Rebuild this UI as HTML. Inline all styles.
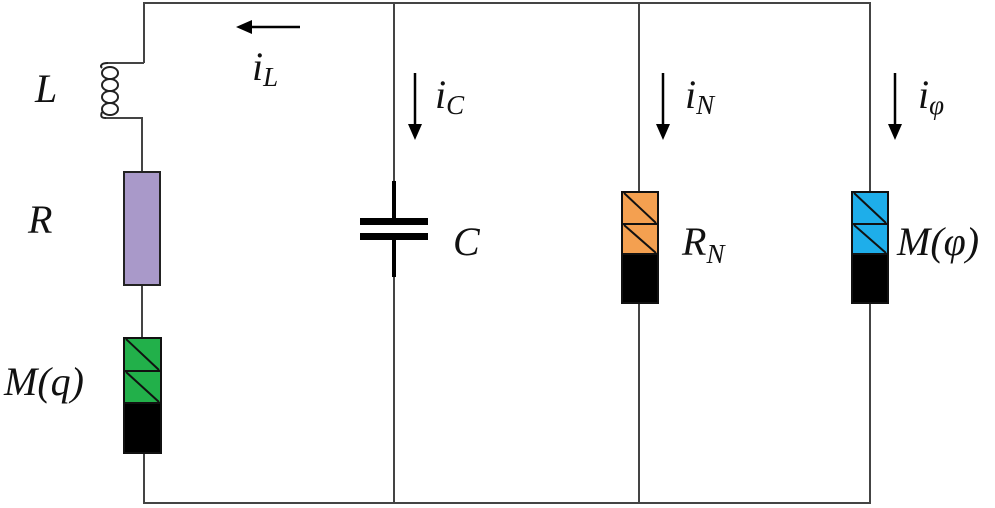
<!DOCTYPE html>
<html><head><meta charset="utf-8"><style>
html,body{margin:0;padding:0;background:#fff}
svg{display:block}
text{font-family:"Liberation Serif",serif;font-style:italic;fill:#111}
</style></head><body>
<svg width="995" height="508" viewBox="0 0 995 508" xmlns="http://www.w3.org/2000/svg">
<defs><marker id="ah" markerWidth="16" markerHeight="14" refX="4" refY="7" orient="auto" markerUnits="userSpaceOnUse"><path d="M0,0 L16,7 L0,14 z" fill="#000"/></marker></defs>
<g stroke="#444" stroke-width="2" fill="none">
<path d="M144,63 V3 H870 V503 H144 V453"/>
<path d="M144,63 H108"/>
<path d="M106,118 H142 V172"/>
<path d="M142,285 V338"/>
<path d="M394,3 V181"/><path d="M394,277 V503"/>
<path d="M639,3 V192"/><path d="M639,303 V503"/>
<path d="M870,3 V192"/><path d="M870,303 V503"/>
</g>
<!-- inductor coils -->
<g stroke="#222" stroke-width="2" fill="none">
<path d="M108,63 C101,63 100,66 102,68"/>
<ellipse cx="110" cy="73" rx="8" ry="6"/>
<ellipse cx="110" cy="85" rx="8" ry="6"/>
<ellipse cx="110" cy="97" rx="8" ry="6"/>
<ellipse cx="110" cy="109" rx="8" ry="6"/>
<path d="M102,112 C100,117 102,118 106,118"/>
</g>
<!-- R -->
<rect x="124" y="172" width="36" height="113" fill="#a999c9" stroke="#222" stroke-width="2"/>
<!-- memristors -->
<g stroke="#111" stroke-width="2">
<rect x="124" y="338" width="37" height="115" fill="#000"/>
<rect x="124" y="338" width="37" height="65" fill="#22b04a"/>
<line x1="124" y1="371" x2="161" y2="371"/>
<line x1="126" y1="339" x2="159" y2="370"/><line x1="126" y1="372" x2="159" y2="402"/>
<rect x="622" y="192" width="36" height="111" fill="#000"/>
<rect x="622" y="192" width="36" height="62" fill="#f4a050"/>
<line x1="622" y1="224" x2="658" y2="224"/>
<line x1="624" y1="193" x2="656" y2="223"/><line x1="624" y1="225" x2="656" y2="253"/>
<rect x="852" y="192" width="36" height="111" fill="#000"/>
<rect x="852" y="192" width="36" height="62" fill="#1eaeea"/>
<line x1="852" y1="224" x2="888" y2="224"/>
<line x1="854" y1="193" x2="886" y2="223"/><line x1="854" y1="225" x2="886" y2="253"/>
</g>
<!-- capacitor -->
<g fill="#000">
<rect x="392" y="181" width="4" height="40"/>
<rect x="392" y="237" width="4" height="40"/>
<rect x="360" y="218" width="68" height="7"/>
<rect x="360" y="233" width="68" height="7"/>
</g>
<!-- arrows -->
<g stroke="#000" stroke-width="2.5">
<line x1="300" y1="27" x2="248" y2="27" marker-end="url(#ah)"/>
<line x1="415" y1="73" x2="415" y2="128" marker-end="url(#ah)"/>
<line x1="663" y1="73" x2="663" y2="128" marker-end="url(#ah)"/>
<line x1="895" y1="73" x2="895" y2="128" marker-end="url(#ah)"/>
</g>
<text x="35" y="102" font-size="40">L</text>
<text x="28" y="233" font-size="40">R</text>
<text x="4" y="395" font-size="40">M(q)</text>
<text x="453" y="255" font-size="40">C</text>
<text x="682" y="255" font-size="40">R<tspan font-size="27" dy="8">N</tspan></text>
<text x="897" y="255" font-size="40">M(φ)</text>
<text x="252" y="80" font-size="40">i<tspan font-size="27" dy="6">L</tspan></text>
<text x="435" y="108" font-size="40">i<tspan font-size="27" dy="6">C</tspan></text>
<text x="685" y="108" font-size="40">i<tspan font-size="27" dy="6">N</tspan></text>
<text x="918" y="108" font-size="40">i<tspan font-size="27" dy="6">φ</tspan></text>
</svg>
</body></html>
